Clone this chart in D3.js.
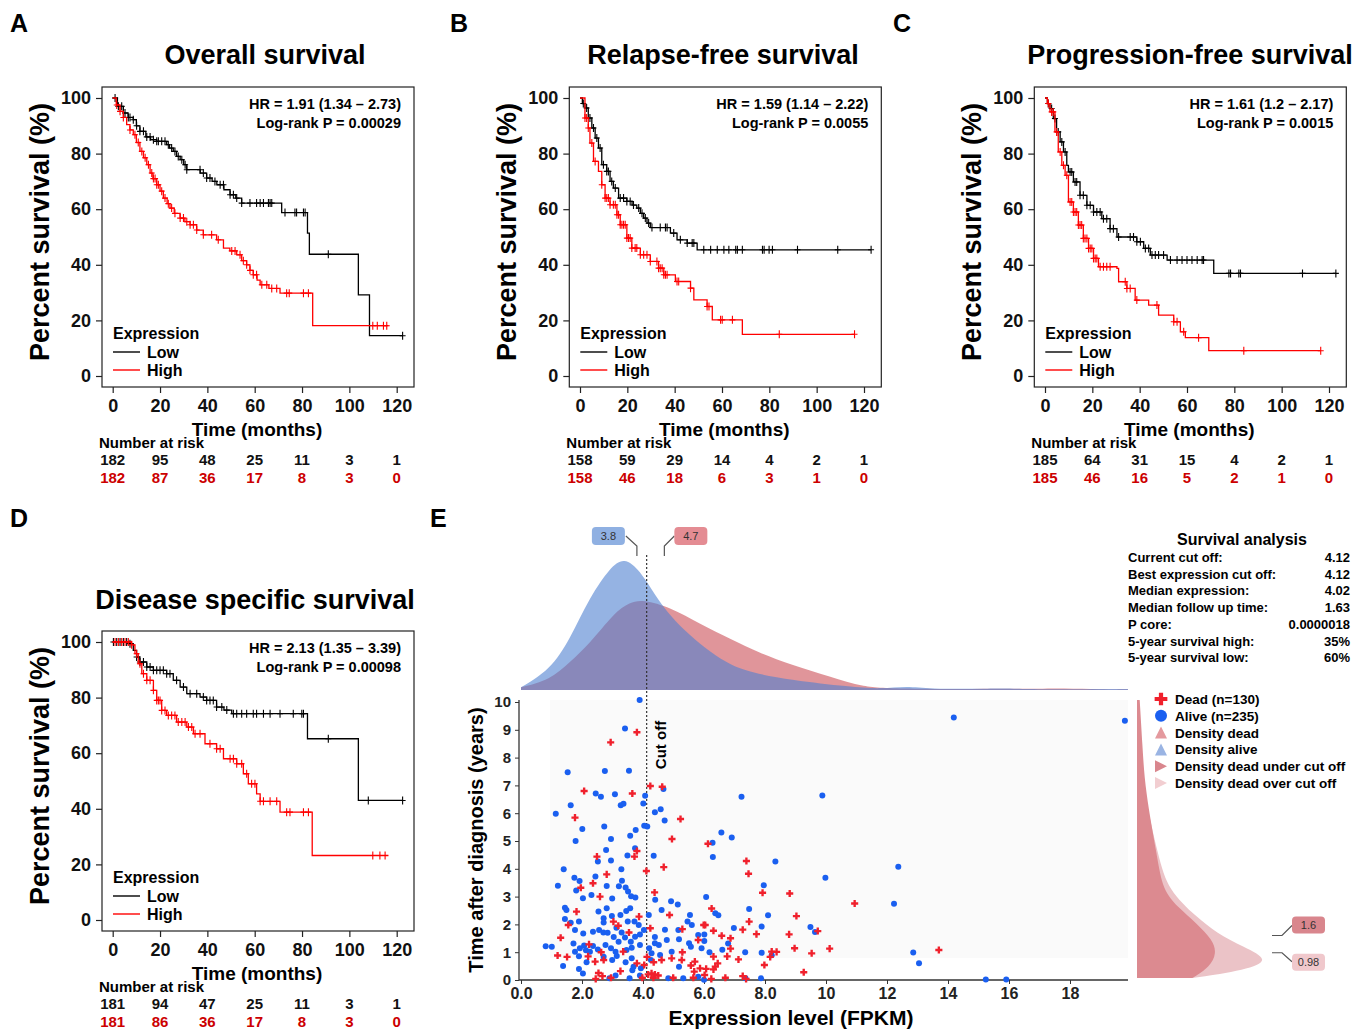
<!DOCTYPE html>
<html>
<head>
<meta charset="utf-8">
<script src="https://cdn.jsdelivr.net/npm/d3@7"></script>
<style>
  body { margin: 0; background: #fff; }
  svg { font-family: "Liberation Sans", Arial, sans-serif; font-weight: bold; }
</style>
</head>
<body>
<svg width="1369" height="1032"></svg>
<script>
// ---------- Kaplan-Meier data: [time (months), survival %] at each step ----------
const osLow = [[0,100],[2,97],[4.5,94.6],[6.5,93],[8.7,92.2],[10,90],[11.5,88],[14,86],[16,85],[18.6,84.4],[22.8,83.2],[24,82],[25.6,80.8],[27,79],[28.5,77.8],[30,76],[31.3,74.2],[37,73],[39.7,71.2],[42,70],[44,68.8],[47,67],[49.6,65.2],[52,64],[54.5,62.2],[71.4,58.8],[82.3,51.4],[83.1,43.8],[103.8,29.2],[108.5,14.5],[122.5,14.5]];
const osHigh = [[0,100],[1.5,97.5],[3.1,95.2],[4.5,93],[5.9,90.4],[7.3,88.5],[8.7,86.8],[10,84],[11.5,80.8],[13,78.5],[14.4,76],[15.8,73],[17,71],[18.6,68.8],[20,66.5],[21.4,64],[23,62],[24.2,60.4],[26,58.5],[28.5,56.8],[30.5,55.5],[32.7,54.4],[35.5,52.5],[38.3,50.8],[43.9,49],[46.8,46],[49.5,45],[52.4,43.6],[54.5,41.5],[56.6,40],[58,38],[59.4,36.4],[61,34.5],[62.3,32.8],[66,31.5],[70.7,29.8],[84.5,18.1],[116.5,18.1]];
const osLowCens = [1,2.4,3.8,5.2,6.6,7.3,8.7,10.1,11.5,13,14.4,15.8,17.2,18.6,19.3,20.7,22.1,23.5,24.9,26.3,27.7,29.2,30.6,31.3,36.9,38.3,39.7,41.1,43.2,45.4,46.8,49.6,51,52.4,54.5,58,60.8,62.3,63.7,65.8,66.5,67.2,72.8,77,77.7,80.6,81.3,91.1,122.5];
const osHighCens = [1.7,3.1,4.5,7.3,9.4,10.8,12.3,13.7,15.1,16.5,17.2,17.9,18.6,19.3,20.7,22.1,23.5,24.9,26.3,28.5,29.9,31.3,32.7,34.1,35.5,38.3,41.8,44.6,50.3,51.7,53.8,55.2,56.6,58,59.4,60.8,63,65.1,67.2,69.3,73.5,74.6,80.6,82.7,109.9,111.8,114.4,115.8];
const osRiskLow = [182,95,48,25,11,3,1];
const osRiskHigh = [182,87,36,17,8,3,0];

const rfsLow = [[0,100],[1,98],[2.1,96.4],[3.5,92.8],[5,89.2],[6.4,85.6],[7.8,82],[9.2,76],[11.3,73.6],[12.7,70],[14.1,67.6],[16.3,64],[19.8,62.8],[22,61.5],[24,60.4],[25.5,58.5],[26.9,56.8],[28.3,55],[29.7,53.4],[38.2,51.4],[41,49],[45.3,47.8],[49.5,45.4],[123,45.4]];
const rfsHigh = [[0,100],[2.1,92.8],[3.5,89.2],[4.2,83.8],[5.7,77.2],[7.8,73.6],[9.2,68.8],[10.6,64],[12.7,61.6],[15.6,58],[17,54.4],[19.8,49.6],[21.9,46],[25.5,43.6],[29.7,41.2],[33.2,38.8],[35.4,36.4],[40.3,34],[46.7,31.6],[48.1,27.4],[53.7,25],[55.9,20.2],[68.6,15],[116,15]];
const rfsLowCens = [1.4,2.8,4.2,5.7,7.1,8.5,9.9,11.3,12,13.4,14.9,17,18.4,19.8,21.2,22.6,24.8,26.2,27.6,29,30.4,33.9,36.1,36.8,39.6,42.4,45.3,47.4,48.1,52.3,55.2,58,60.8,62.9,65.8,66.5,68.6,77.1,77.8,79.9,81.3,91.9,108.9,123];
const rfsHighCens = [2.1,2.8,3.5,5,6.4,9.2,10.6,11.3,12,12.7,14.1,14.9,15.6,16.3,17,17.7,18.4,19.1,19.8,20.5,21.2,21.9,23.3,24,25.5,26.9,28.3,29.7,32.5,33.2,33.9,34.7,35.4,36.1,36.8,41,41.7,46.7,53.7,54.5,59.4,60.1,64.4,84.2,116];
const rfsRiskLow = [158,59,29,14,4,2,1];
const rfsRiskHigh = [158,46,18,6,3,1,0];

const pfsLow = [[0,100],[1,98],[2.1,96.2],[3.5,92.6],[4.9,87.8],[6.4,84.2],[7.8,80.6],[9.2,75.8],[9.9,73.4],[12,69.8],[14.8,65],[17.7,61.4],[20.5,59],[24,56.6],[27.5,53],[30.4,50],[38.8,48.3],[41.7,45.9],[44.5,43.5],[51.6,41.7],[71.3,36.9],[122.9,36.9]];
const pfsHigh = [[0,100],[1,98],[2.1,95],[4.2,87.8],[5.6,80.6],[7.1,75.8],[8.5,72.2],[9.9,62.6],[12,59],[14.1,54.3],[16.2,49.5],[18.4,45.9],[20.5,42.3],[22.6,39.3],[30.4,38.7],[31.1,33.9],[34.6,31.5],[38.1,27.3],[43.8,25.5],[48,21.9],[54.4,19.5],[57.2,15.9],[59.3,13.8],[69.2,9.1],[116.5,9.1]];
const pfsLowCens = [1.4,2.8,4.2,5.6,7.1,8.5,10.6,11.3,12.7,13.4,14.8,16.2,17.7,19.1,20.5,21.9,23.3,24.7,26.1,27.5,28.9,31.1,36,37.4,38.8,40.3,42.4,43.8,45.2,46.6,48,50.1,53,55.8,57.9,60,62.1,64.3,66.4,67,77.7,78.4,81.9,82.6,108.8,122.9];
const pfsHighCens = [1.4,2.8,3.5,4.9,6.4,7.8,9.2,10.6,11.3,12,12.7,13.4,14.1,14.8,15.5,16.2,16.9,17.7,18.4,19.1,19.8,20.5,21.2,21.9,23.3,24.7,26.1,27.5,33.9,34.6,36,38.8,47.3,54.4,55.8,58.6,64.9,84,116.5];
const pfsRiskLow = [185,64,31,15,4,2,1];
const pfsRiskHigh = [185,46,16,5,2,1,0];

const dssLow = [[0,100],[7.3,99.4],[8.7,97],[10.1,94.6],[11.5,92.8],[14.4,91],[17.2,89.8],[22.8,88.6],[25.6,86.2],[28.5,83.8],[31.3,81.4],[36.9,80.2],[39.7,79],[43.9,76.6],[47,75.5],[50.3,74.2],[82.3,65.2],[103.8,43],[122.5,43]];
const dssHigh = [[0,100],[8,99],[9.4,95.8],[10.8,92.2],[12.3,88.6],[14.4,86.2],[17.2,82.6],[18.6,79],[20.7,75.4],[22.8,73.6],[27,71.2],[31.3,69.4],[34.1,67],[39,63.4],[43.9,61.6],[46.8,58],[52.4,56.2],[55.2,52.6],[57.3,49],[60.8,45.4],[62.3,42.7],[70.7,38.8],[84.3,23.2],[116.5,23.2]];
const dssLowCens = [0.3,1.7,3.1,4.5,5.9,7.3,10.1,11.5,13,14.4,15.8,17.2,18.6,20,21.4,22.8,24.2,27,29.9,32.7,35.5,38.3,39.7,41.1,42.5,43.9,46.1,48.2,51,52.4,54.5,56.6,59.4,60.8,63.7,66.5,70.7,76.3,79.9,80.6,91.1,108,122.5];
const dssHighCens = [1,2.4,3.8,5.2,6.6,8,10.1,11.5,13,14.4,15.8,17.2,18.6,19.3,20,20.7,22.1,23.5,24.9,26.3,27.7,29.2,30.6,32,33.4,34.8,36.9,41.1,43.9,45.4,49.6,51,52.4,54.5,56.6,58.7,60.1,62.3,63.7,66.5,69.3,73.5,74.9,80.6,82.7,109.9,112.9,115.1];
const dssRiskLow = [181,94,47,25,11,3,1];
const dssRiskHigh = [181,86,36,17,8,3,0];

const kmTicksX = [0,20,40,60,80,100,120];
const kmTicksY = [0,20,40,60,80,100];

// ---------- Panel E data ----------
const exprTicks = [0,2,4,6,8,10,12,14,16,18];
const exprTickLabels = ["0.0","2.0","4.0","6.0","8.0","10","12","14","16","18"];
const yearTicks = [0,1,2,3,4,5,6,7,8,9,10];

const deadPts = [[3.80,8.91],[2.94,8.55],[4.24,6.98],[4.63,6.95],[2.07,6.80],[3.65,6.71],[1.77,5.84],[5.23,5.79],[4.95,5.07],[3.80,4.64],[3.72,4.44],[2.49,4.44],[4.11,3.92],[4.68,4.06],[2.81,3.80],[2.36,3.48],[1.96,3.32],[2.59,3.00],[4.38,3.15],[1.82,2.46],[3.87,2.28],[4.87,2.34],[1.55,1.98],[3.03,2.10],[3.19,1.95],[3.54,1.71],[1.30,1.52],[4.24,1.86],[5.29,1.83],[5.99,1.98],[2.23,1.28],[3.35,1.02],[5.29,1.00],[5.81,1.44],[1.20,0.88],[1.51,0.83],[2.20,0.85],[2.63,1.00],[2.43,0.66],[2.71,0.72],[3.80,0.60],[4.13,0.83],[4.04,0.54],[4.35,0.64],[4.61,0.72],[4.94,0.78],[5.27,0.72],[5.57,0.52],[5.70,0.66],[5.68,0.30],[5.87,0.42],[2.54,0.25],[2.67,0.14],[2.45,0.04],[2.95,0.08],[3.26,0.32],[3.98,0.08],[4.17,0.20],[4.28,0.24],[4.39,0.20],[4.50,0.16],[4.34,0.08],[4.99,0.08],[5.65,0.08],
  [6.13,4.90],[7.39,4.28],[7.46,3.82],[7.92,3.14],[8.81,3.11],[10.94,2.75],[6.25,2.57],[9.03,2.30],[7.48,2.10],[6.04,1.98],[7.27,1.81],[6.31,1.77],[9.73,1.76],[7.72,1.65],[8.79,1.64],[6.58,1.59],[6.87,1.50],[6.87,1.13],[8.22,1.02],[8.38,1.01],[8.97,1.14],[9.53,0.96],[10.12,1.13],[6.76,0.85],[6.31,0.84],[7.13,0.74],[8.17,0.83],[6.45,0.60],[6.37,0.48],[6.31,0.38],[7.98,0.54],[6.07,0.40],[6.02,0.18],[9.27,0.28],[6.70,0.08],[7.27,0.14],[7.38,0.04],[6.24,0.04],[13.70,1.08]];
const alivePts = [[3.89,10.07],[3.41,9.05],[1.53,7.47],[2.75,7.52],[3.54,7.53],[4.67,6.87],[2.45,6.71],[2.62,6.59],[3.08,6.68],[4.07,6.63],[4.01,6.35],[1.63,6.29],[3.27,6.29],[3.36,6.34],[1.14,5.98],[4.39,6.03],[4.58,6.14],[4.71,5.74],[2.01,5.43],[2.73,5.52],[3.76,5.40],[4.04,5.55],[4.14,5.52],[1.79,5.00],[2.95,5.07],[3.58,5.19],[3.74,4.74],[2.79,4.68],[3.49,4.48],[2.52,4.26],[2.95,4.30],[4.35,4.47],[1.40,3.98],[3.29,3.98],[1.75,3.68],[2.44,3.72],[1.92,3.56],[3.31,3.57],[1.21,3.39],[2.81,3.38],[3.21,3.37],[3.43,3.33],[1.81,3.22],[3.51,3.18],[2.31,3.06],[2.03,2.94],[2.99,2.93],[3.61,3.01],[3.75,2.97],[4.40,2.89],[4.92,2.83],[5.14,2.72],[1.44,2.60],[1.49,2.52],[2.54,2.46],[2.81,2.58],[3.58,2.58],[3.45,2.48],[2.98,2.30],[3.26,2.34],[4.19,2.34],[4.61,2.52],[5.54,2.34],[1.44,2.19],[1.90,2.10],[1.63,2.06],[2.71,2.22],[2.71,2.07],[3.50,2.10],[3.72,2.10],[3.86,1.98],[2.56,1.80],[2.70,1.71],[2.84,1.70],[3.13,1.88],[3.30,1.71],[2.04,1.67],[1.77,1.80],[2.36,1.74],[3.04,1.55],[3.20,1.38],[3.41,1.53],[3.60,1.38],[3.74,1.56],[3.90,1.64],[4.03,1.80],[4.39,1.55],[4.72,1.81],[5.16,1.80],[5.46,2.10],[5.60,1.98],[5.81,1.62],[0.81,1.21],[1.01,1.20],[1.72,1.31],[1.93,1.14],[2.07,1.24],[2.13,1.07],[2.36,1.22],[2.52,1.10],[2.77,1.26],[2.95,1.14],[3.10,1.02],[3.46,1.08],[3.63,1.16],[3.90,1.26],[4.20,1.14],[4.39,1.32],[4.52,1.26],[4.78,1.44],[4.94,1.02],[5.18,1.47],[5.51,1.32],[5.57,1.20],[5.92,1.14],[1.77,1.02],[1.90,0.85],[2.26,1.02],[2.71,0.84],[2.99,0.72],[3.14,0.86],[2.15,0.64],[3.43,0.64],[3.63,0.78],[3.69,0.48],[3.93,0.42],[4.28,0.96],[4.26,0.72],[4.56,0.90],[5.18,0.48],[1.90,0.40],[2.03,0.23],[3.10,0.16],[2.90,0.06],[3.65,0.35],[3.56,0.06],[3.90,0.16],[4.83,0.06],[5.32,0.06],[5.81,0.12],[1.38,0.50],
  [7.23,6.59],[9.88,6.64],[6.57,5.31],[6.91,5.13],[6.28,4.94],[6.29,4.42],[8.34,4.26],[9.98,3.68],[7.96,3.41],[6.07,2.99],[7.48,2.55],[6.37,2.40],[6.47,2.33],[8.10,2.33],[6.98,1.87],[7.89,1.92],[9.49,1.91],[9.64,1.73],[6.01,1.64],[6.01,1.40],[6.79,1.31],[6.60,1.09],[6.18,1.00],[7.35,1.00],[7.89,0.98],[8.22,0.89],[7.36,0.06],[7.87,0.06],[6.00,0.01],
  [14.19,9.44],[19.80,9.33],[12.37,4.07],[12.23,2.74],[12.86,0.99],[13.05,0.60],[15.24,0.02],[15.91,0.02]];

// density of expression (relative height) for alive / dead
const aliveDensity = [[0,0.02],[0.95,0.15],[1.6,0.38],[2.26,0.70],[2.92,0.92],[3.38,1.0],[3.9,0.9],[4.4,0.71],[4.92,0.55],[5.54,0.41],[6.23,0.28],[6.85,0.19],[7.54,0.13],[8.85,0.075],[10.8,0.023],[11.8,0.008],[12.66,0.03],[13.4,0.008],[15,0.008],[15.7,0.015],[17,0.004],[19.9,0.008]];
const deadDensity = [[0,0.02],[0.95,0.075],[1.6,0.21],[2.26,0.35],[3.05,0.58],[3.57,0.66],[4.0,0.68],[4.9,0.62],[5.84,0.50],[6.9,0.38],[7.8,0.28],[8.85,0.19],[10.16,0.10],[11.2,0.02],[12.4,0.008],[16.7,0.008],[17.8,0.015],[19,0.004],[19.9,0.005]];
// density of follow-up time (years) for dead patients under / over cut off
const deadUnderDensity = [[0.07,0.41],[0.47,0.54],[0.97,0.59],[1.44,0.56],[2.05,0.44],[2.63,0.30],[3.24,0.19],[4.42,0.15],[6.83,0.06],[8.45,0.04],[10.07,0.02]];
const deadOverDensity = [[0.07,0.41],[0.36,0.81],[0.72,0.99],[1.19,0.79],[1.69,0.59],[2.27,0.44],[3.24,0.23],[4.42,0.16],[6.83,0.045],[8.45,0.03],[10.07,0.015]];

const cutOff = 4.12;
const aliveMedianLabel = 3.8, deadMedianLabel = 4.7;
const underLabel = 1.6, overLabel = 0.98;

const statLabels = ["Current cut off:","Best expression cut off:","Median expression:","Median follow up time:","P core:","5-year survival high:","5-year survival low:"];
const statValues = ["4.12","4.12","4.02","1.63","0.0000018","35%","60%"];
const legendLabels = ["Dead (n=130)","Alive (n=235)","Density dead","Density alive","Density dead under cut off","Density dead over cut off"];

// ---------- drawing ----------
const svg = d3.select("svg");
const RED = "#ff0000";

function survAt(steps, t) {
  let s = steps[0][1];
  for (const d of steps) { if (d[0] <= t) s = d[1]; else break; }
  return s;
}

const panels = [
  {letter:"A", letterX:10, letterY:32, title:"Overall survival", titleX:265, titleY:64, dx:0, dy:0,
   hr:"HR = 1.91 (1.34 \u2013 2.73)", p:"Log-rank P = 0.00029", low:osLow, high:osHigh, lowCens:osLowCens, highCens:osHighCens, riskLow:osRiskLow, riskHigh:osRiskHigh},
  {letter:"B", letterX:450, letterY:32, title:"Relapse-free survival", titleX:723, titleY:64, dx:467.3, dy:0,
   hr:"HR = 1.59 (1.14 \u2013 2.22)", p:"Log-rank P = 0.0055", low:rfsLow, high:rfsHigh, lowCens:rfsLowCens, highCens:rfsHighCens, riskLow:rfsRiskLow, riskHigh:rfsRiskHigh},
  {letter:"C", letterX:893, letterY:32, title:"Progression-free survival", titleX:1190, titleY:64, dx:932.3, dy:0,
   hr:"HR = 1.61 (1.2 \u2013 2.17)", p:"Log-rank P = 0.0015", low:pfsLow, high:pfsHigh, lowCens:pfsLowCens, highCens:pfsHighCens, riskLow:pfsRiskLow, riskHigh:pfsRiskHigh},
  {letter:"D", letterX:10, letterY:527, title:"Disease specific survival", titleX:255, titleY:609, dx:0, dy:544,
   hr:"HR = 2.13 (1.35 \u2013 3.39)", p:"Log-rank P = 0.00098", low:dssLow, high:dssHigh, lowCens:dssLowCens, highCens:dssHighCens, riskLow:dssRiskLow, riskHigh:dssRiskHigh}
];

panels.forEach(p => {
  svg.append("text").attr("x", p.letterX).attr("y", p.letterY).attr("font-size", 25).text(p.letter);
  svg.append("text").attr("x", p.titleX).attr("y", p.titleY).attr("text-anchor", "middle")
    .attr("font-size", 27).text(p.title);

  const g = svg.append("g").attr("transform", `translate(${p.dx},${p.dy})`);
  const x = d3.scaleLinear().domain([0, 120]).range([112.7, 396.7]);
  const y = d3.scaleLinear().domain([0, 100]).range([376, 98]);

  g.append("rect").attr("x", 102).attr("y", 87).attr("width", 312).attr("height", 300)
    .attr("fill", "none").attr("stroke", "#222").attr("stroke-width", 1.2);

  const ya = g.append("g").attr("transform", "translate(102,0)")
    .call(d3.axisLeft(y).tickValues(kmTicksY).tickSize(6).tickPadding(5));
  const xa = g.append("g").attr("transform", "translate(0,387)")
    .call(d3.axisBottom(x).tickValues(kmTicksX).tickSize(6).tickPadding(6));
  [ya, xa].forEach(a => {
    a.select(".domain").remove();
    a.selectAll("line").attr("stroke", "#222").attr("stroke-width", 1.2);
    a.selectAll("text").attr("font-size", 18).attr("font-family", null).attr("fill", "#111");
  });

  g.append("text").attr("transform", "translate(49,232) rotate(-90)").attr("text-anchor", "middle")
    .attr("font-size", 27).text("Percent survival (%)");
  g.append("text").attr("x", 257).attr("y", 436).attr("text-anchor", "middle")
    .attr("font-size", 19).text("Time (months)");

  g.append("text").attr("x", 401).attr("y", 109).attr("text-anchor", "end").attr("font-size", 14.5).text(p.hr);
  g.append("text").attr("x", 401).attr("y", 128).attr("text-anchor", "end").attr("font-size", 14.5).text(p.p);

  const line = d3.line().x(d => x(d[0])).y(d => y(d[1])).curve(d3.curveStepAfter);
  [[p.low, p.lowCens, "#000"], [p.high, p.highCens, RED]].forEach(([steps, cens, col]) => {
    g.append("path").datum(steps).attr("d", line).attr("fill", "none")
      .attr("stroke", col).attr("stroke-width", 1.3);
    g.append("g").selectAll("path").data(cens).join("path")
      .attr("d", t => {
        const cx = x(t), cy = y(survAt(steps, t));
        return `M${cx},${cy - 4}V${cy + 4}M${cx - 3},${cy}H${cx + 3}`;
      })
      .attr("stroke", col).attr("stroke-width", 1.1).attr("fill", "none");
  });

  // legend
  g.append("text").attr("x", 113).attr("y", 339).attr("font-size", 16).text("Expression");
  [["Low", "#000", 352], ["High", RED, 370]].forEach(([lab, col, yy]) => {
    g.append("line").attr("x1", 113).attr("x2", 140).attr("y1", yy).attr("y2", yy)
      .attr("stroke", col).attr("stroke-width", 1.4);
    g.append("text").attr("x", 147).attr("y", yy + 6).attr("font-size", 16).text(lab);
  });

  // number at risk
  g.append("text").attr("x", 99).attr("y", 448).attr("font-size", 15).text("Number at risk");
  [[p.riskLow, "#111", 465], [p.riskHigh, "#cc0000", 483]].forEach(([vals, col, yy]) => {
    g.append("g").selectAll("text").data(vals).join("text")
      .attr("x", (d, i) => x(kmTicksX[i])).attr("y", yy).attr("text-anchor", "middle")
      .attr("font-size", 15).attr("fill", col).text(d => d);
  });
});

// ---------- Panel E ----------
svg.append("text").attr("x", 430).attr("y", 527).attr("font-size", 25).text("E");

const xE = d3.scaleLinear().domain([0, 19.9]).range([521, 521 + 30.5 * 19.9]);
const yE = d3.scaleLinear().domain([0, 10]).range([980, 702]);
const yDens = d3.scaleLinear().domain([0, 1]).range([690, 557]);
const xDensR = d3.scaleLinear().domain([0, 1]).range([1137, 1272]);

// faint plot background
svg.append("rect").attr("x", 550).attr("y", 700).attr("width", 578).attr("height", 258).attr("fill", "#fafafa");

// top densities
const topArea = d3.area().x(d => xE(d[0])).y0(yDens(0)).y1(d => yDens(d[1])).curve(d3.curveBasis);
svg.append("path").datum(deadDensity).attr("d", topArea).attr("fill", "rgb(203,78,87)").attr("fill-opacity", 0.6);
svg.append("path").datum(aliveDensity).attr("d", topArea).attr("fill", "rgb(78,128,208)").attr("fill-opacity", 0.6);

// right densities
const rightArea = d3.area().y(d => yE(d[0])).x0(xDensR(0)).x1(d => xDensR(d[1])).curve(d3.curveBasis);
svg.append("path").datum(deadOverDensity).attr("d", rightArea).attr("fill", "#ebc3c7");
svg.append("path").datum(deadUnderDensity).attr("d", rightArea).attr("fill", "#dc8a90");

// axes
const xEa = svg.append("g").attr("transform", "translate(0,980)")
  .call(d3.axisBottom(xE).tickValues(exprTicks).tickFormat((d, i) => exprTickLabels[i]).tickSize(4).tickSizeOuter(0).tickPadding(4));
const yEa = svg.append("g").attr("transform", "translate(519,0)")
  .call(d3.axisLeft(yE).tickValues(yearTicks).tickSize(4).tickSizeOuter(0).tickPadding(4));
xEa.select(".domain").attr("d", "M519,0H1128").attr("stroke", "#333").attr("stroke-width", 1.3);
yEa.select(".domain").attr("d", "M0,980V700").attr("stroke", "#333").attr("stroke-width", 1.3);
[xEa, yEa].forEach(a => {
  a.selectAll("line").attr("stroke", "#333");
  a.selectAll("text").attr("font-family", null).attr("fill", "#222");
});
xEa.selectAll("text").attr("font-size", 16);
yEa.selectAll("text").attr("font-size", 15);

svg.append("text").attr("x", 791).attr("y", 1025).attr("text-anchor", "middle").attr("font-size", 21)
  .text("Expression level (FPKM)");
svg.append("text").attr("transform", "translate(483,840) rotate(-90)").attr("text-anchor", "middle")
  .attr("font-size", 20).text("Time after diagnosis (years)");

// cut off line
svg.append("line").attr("x1", xE(cutOff)).attr("x2", xE(cutOff)).attr("y1", 555).attr("y2", 980)
  .attr("stroke", "#333").attr("stroke-width", 1.2).attr("stroke-dasharray", "2,2");
svg.append("text").attr("transform", `translate(${xE(cutOff) + 19},745) rotate(-90)`)
  .attr("text-anchor", "middle").attr("font-size", 15).text("Cut off");

// scatter
svg.append("g").selectAll("circle").data(alivePts).join("circle")
  .attr("cx", d => xE(d[0])).attr("cy", d => yE(d[1])).attr("r", 3).attr("fill", "#1a5ff0");
svg.append("g").selectAll("path").data(deadPts).join("path")
  .attr("transform", d => `translate(${xE(d[0])},${yE(d[1])})`)
  .attr("d", d3.symbol(d3.symbolCross, 28)).attr("fill", "#f0202c");

// label boxes on densities
function labelBox(x0, y0, w, h, txt, fill) {
  svg.append("rect").attr("x", x0).attr("y", y0).attr("width", w).attr("height", h).attr("rx", 4)
    .attr("fill", fill);
  svg.append("text").attr("x", x0 + w / 2).attr("y", y0 + h / 2 + 4).attr("text-anchor", "middle")
    .attr("font-size", 11).attr("font-weight", "normal").attr("fill", "#333").text(txt);
}
const conn = d3.line();
const xa1 = xE(aliveMedianLabel), xd1 = xE(deadMedianLabel);
svg.append("path").attr("d", conn([[xa1 - 11, 536], [xa1, 546], [xa1, 556]])).attr("fill", "none").attr("stroke", "#555").attr("stroke-width", 1.2);
svg.append("path").attr("d", conn([[xd1 + 10, 536], [xd1, 546], [xd1, 556]])).attr("fill", "none").attr("stroke", "#555").attr("stroke-width", 1.2);
labelBox(xa1 - 45, 527, 33, 18, String(aliveMedianLabel), "#8fb0e2");
labelBox(xd1 + 10, 527, 33, 18, String(deadMedianLabel), "#e48c93");

const yu = yE(underLabel), yo = yE(overLabel);
svg.append("path").attr("d", conn([[1272, yu], [1282, yu], [1292, yu - 10]])).attr("fill", "none").attr("stroke", "#555").attr("stroke-width", 1.2);
svg.append("path").attr("d", conn([[1272, yo], [1282, yo], [1292, yo + 9]])).attr("fill", "none").attr("stroke", "#555").attr("stroke-width", 1.2);
labelBox(1292, yu - 19, 33, 17, String(underLabel), "#d9868d");
labelBox(1292, yo + 1, 33, 17, String(overLabel), "#f0c8cc");

// survival analysis table
svg.append("text").attr("x", 1242).attr("y", 545).attr("text-anchor", "middle").attr("font-size", 16)
  .text("Survival analysis");
statLabels.forEach((lab, i) => {
  const yy = 562 + i * 16.7;
  svg.append("text").attr("x", 1128).attr("y", yy).attr("font-size", 13).text(lab);
  svg.append("text").attr("x", 1350).attr("y", yy).attr("text-anchor", "end").attr("font-size", 13).text(statValues[i]);
});

// legend E
const legMarks = [
  g => g.append("path").attr("d", d3.symbol(d3.symbolCross, 90)).attr("fill", "#f0202c"),
  g => g.append("circle").attr("r", 6).attr("fill", "#1a5ff0"),
  g => g.append("path").attr("d", "M0,-6L6,6H-6Z").attr("fill", "#e4999e"),
  g => g.append("path").attr("d", "M0,-6L6,6H-6Z").attr("fill", "#9ab4e3"),
  g => g.append("path").attr("d", "M-6,-6L6,0L-6,6Z").attr("fill", "#d9868d"),
  g => g.append("path").attr("d", "M-6,-6L6,0L-6,6Z").attr("fill", "#f2ced1")
];
legendLabels.forEach((lab, i) => {
  const yy = 699 + i * 16.8;
  const mg = svg.append("g").attr("transform", `translate(1161,${yy})`);
  legMarks[i](mg);
  svg.append("text").attr("x", 1175).attr("y", yy + 5).attr("font-size", 13.5).text(lab);
});
</script>
</body>
</html>
